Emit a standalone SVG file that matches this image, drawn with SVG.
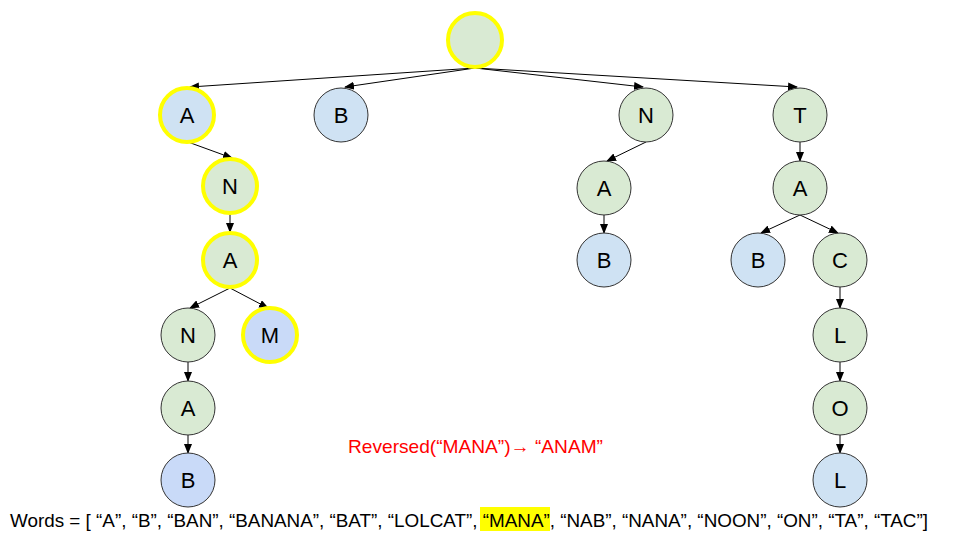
<svg xmlns="http://www.w3.org/2000/svg" width="960" height="540" viewBox="0 0 960 540">
<defs>
<marker id="ah" markerWidth="10" markerHeight="8" refX="9" refY="4" orient="auto" markerUnits="userSpaceOnUse">
<path d="M0,0 L10,4 L0,8 Z" fill="#000"/>
</marker>
<style>
.n circle{stroke:#333;stroke-width:1}
.g{fill:#d9ead3}
.b{fill:#cfe2f3}
.b2{fill:#c9daf8}
.hl circle{stroke:#ffff00;stroke-width:4}
.n text{font-family:"Liberation Sans",Arial,sans-serif;font-size:22px;text-anchor:middle;fill:#000}
#edges line{stroke:#000;stroke-width:1;marker-end:url(#ah)}
</style>
</defs>
<rect width="960" height="540" fill="#fff"/>
<g id="edges">
<line x1="475" y1="68" x2="190" y2="87"/>
<line x1="475" y1="68" x2="345" y2="87"/>
<line x1="475" y1="68" x2="643" y2="87"/>
<line x1="475" y1="68" x2="797" y2="87"/>
<line x1="188" y1="142" x2="232" y2="158"/>
<line x1="230" y1="213" x2="230" y2="232"/>
<line x1="230" y1="288" x2="190" y2="308"/>
<line x1="230" y1="288" x2="268" y2="308"/>
<line x1="188" y1="362" x2="188" y2="381"/>
<line x1="188" y1="435" x2="188" y2="453"/>
<line x1="646" y1="142" x2="607" y2="161"/>
<line x1="604" y1="215" x2="604" y2="233"/>
<line x1="800" y1="142" x2="800" y2="161"/>
<line x1="800" y1="215" x2="761" y2="233"/>
<line x1="800" y1="215" x2="838" y2="233"/>
<line x1="840" y1="287" x2="840" y2="308"/>
<line x1="840" y1="362" x2="840" y2="381"/>
<line x1="840" y1="435" x2="840" y2="453"/>
</g>
<g id="root" class="n hl"><circle class="g" cx="475" cy="40" r="27"/></g>
<g id="nA" class="n hl"><circle class="b" cx="187" cy="115" r="27"/><text x="187" y="123">A</text></g>
<g id="nB" class="n"><circle class="b" cx="341" cy="115" r="27"/><text x="341" y="123">B</text></g>
<g id="nN" class="n"><circle class="g" cx="646" cy="115" r="27"/><text x="646" y="123">N</text></g>
<g id="nT" class="n"><circle class="g" cx="800" cy="115" r="27"/><text x="800" y="123">T</text></g>
<g id="nAN" class="n hl"><circle class="g" cx="230" cy="186" r="27"/><text x="230" y="194">N</text></g>
<g id="nANA" class="n hl"><circle class="g" cx="230" cy="260" r="27"/><text x="230" y="268">A</text></g>
<g id="nANAN" class="n"><circle class="g" cx="188" cy="335" r="27"/><text x="188" y="343">N</text></g>
<g id="nANAM" class="n hl"><circle class="b2" cx="270" cy="335" r="27"/><text x="270" y="343">M</text></g>
<g id="nANANA" class="n"><circle class="g" cx="188" cy="408" r="27"/><text x="188" y="416">A</text></g>
<g id="nANANAB" class="n"><circle class="b2" cx="188" cy="480" r="27"/><text x="188" y="488">B</text></g>
<g id="nNA" class="n"><circle class="g" cx="604" cy="188" r="27"/><text x="604" y="196">A</text></g>
<g id="nNAB" class="n"><circle class="b" cx="604" cy="260" r="27"/><text x="604" y="268">B</text></g>
<g id="nTA" class="n"><circle class="g" cx="800" cy="188" r="27"/><text x="800" y="196">A</text></g>
<g id="nTAB" class="n"><circle class="b" cx="758" cy="260" r="27"/><text x="758" y="268">B</text></g>
<g id="nTAC" class="n"><circle class="g" cx="840" cy="260" r="27"/><text x="840" y="268">C</text></g>
<g id="nTACL" class="n"><circle class="g" cx="840" cy="335" r="27"/><text x="840" y="343">L</text></g>
<g id="nTACLO" class="n"><circle class="g" cx="840" cy="408" r="27"/><text x="840" y="416">O</text></g>
<g id="nTACLOL" class="n"><circle class="b" cx="840" cy="480" r="27"/><text x="840" y="488">L</text></g>
<text x="348" y="453" font-family="'Liberation Sans',Arial,sans-serif" font-size="19" fill="#ff0000" textLength="255" lengthAdjust="spacingAndGlyphs">Reversed(“MANA”)→ “ANAM”</text>
<rect x="480" y="507" width="70" height="24" fill="#ffff00"/>
<text x="10" y="527" font-family="'Liberation Sans',Arial,sans-serif" font-size="19" fill="#000" textLength="918" lengthAdjust="spacingAndGlyphs">Words = [ “A”, “B”, “BAN”, “BANANA”, “BAT”, “LOLCAT”, “MANA”, “NAB”, “NANA”, “NOON”, “ON”, “TA”, “TAC”]</text>
</svg>
